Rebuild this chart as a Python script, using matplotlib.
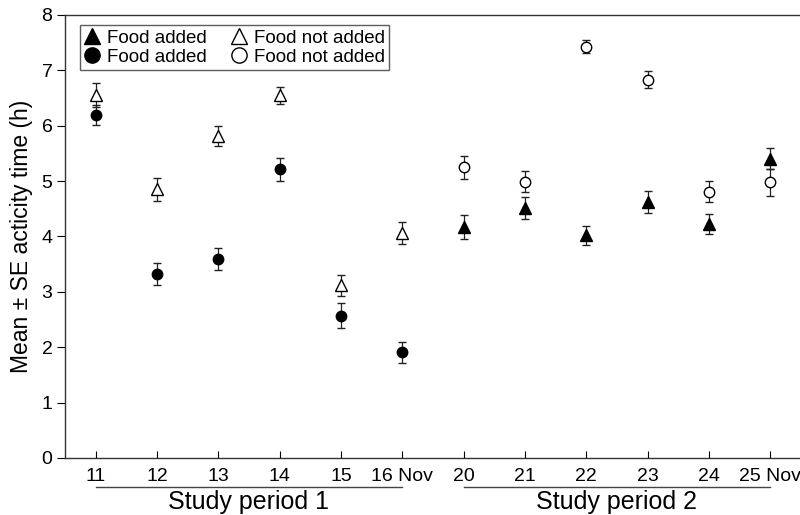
import numpy as np
import matplotlib.pyplot as plt
from matplotlib.lines import Line2D

plt.rcParams['font.family'] = ['Liberation Sans', 'DejaVu Sans']

# days of the two study periods (November)
day_labels = ['11', '12', '13', '14', '15', '16 Nov', '20', '21', '22', '23', '24', '25 Nov']

# study period 1 (days 11-16)
p1_added_mean = [6.20, 3.32, 3.59, 5.21, 2.57, 1.91]
p1_added_se = [0.18, 0.20, 0.20, 0.21, 0.22, 0.19]
p1_not_added_mean = [6.55, 4.85, 5.82, 6.55, 3.12, 4.07]
p1_not_added_se = [0.22, 0.21, 0.18, 0.15, 0.19, 0.20]

# study period 2 (days 20-25)
p2_added_mean = [4.17, 4.51, 4.02, 4.62, 4.22, 5.40]
p2_added_se = [0.22, 0.20, 0.17, 0.20, 0.18, 0.19]
p2_not_added_mean = [5.25, 4.99, 7.43, 6.83, 4.81, 4.98]
p2_not_added_se = [0.21, 0.19, 0.12, 0.15, 0.19, 0.24]

x = np.arange(len(day_labels))
x1 = x[:6]
x2 = x[6:]

fig = plt.figure(figsize=(8, 5.15), dpi=100)
ax = fig.add_axes([0.08125, 0.1107, 0.92, 0.8602])

ebkw = dict(linestyle='none', ecolor='#222222', elinewidth=0.9, capsize=3, capthick=0.9,
            markeredgewidth=1.0, markeredgecolor='black')

ax.errorbar(x1, p1_not_added_mean, yerr=p1_not_added_se, fmt='^', markersize=8,
            markerfacecolor='white', **ebkw)
ax.errorbar(x1, p1_added_mean, yerr=p1_added_se, fmt='o', markersize=7.5,
            markerfacecolor='black', **ebkw)
ax.errorbar(x2, p2_not_added_mean, yerr=p2_not_added_se, fmt='o', markersize=7.5,
            markerfacecolor='white', **ebkw)
ax.errorbar(x2, p2_added_mean, yerr=p2_added_se, fmt='^', markersize=8,
            markerfacecolor='black', **ebkw)

ax.set_xlim(-0.5, 11.5)
ax.set_ylim(0, 8)
ax.set_yticks(range(0, 9))
ax.set_xticks(x)
ax.set_xticklabels(day_labels)

ax.tick_params(axis='x', direction='in', length=5, width=0.8, labelsize=14, pad=7, colors='black')
ax.tick_params(axis='y', direction='out', length=6, width=0.8, labelsize=14, pad=3)
ax.spines['right'].set_visible(False)
for s in ['left', 'bottom', 'top']:
    ax.spines[s].set_linewidth(1.0)
    ax.spines[s].set_color('#333333')

ax.set_ylabel('Mean \u00b1 SE acticity time (h)', fontsize=16.5, labelpad=6)

# study period brackets under the day labels
for (a, b), name in [((0, 5), 'Study period 1'), ((6, 11), 'Study period 2')]:
    ax.plot([a, b], [-0.066, -0.066], color='#444444', lw=1.0,
            transform=ax.get_xaxis_transform(), clip_on=False)
    ax.text((a + b) / 2, -0.1, name, fontsize=18, ha='center', va='center',
            transform=ax.get_xaxis_transform())

handles = [
    Line2D([], [], marker='^', ls='none', color='black', markerfacecolor='black', markersize=11),
    Line2D([], [], marker='o', ls='none', color='black', markerfacecolor='black', markersize=11),
    Line2D([], [], marker='^', ls='none', color='black', markerfacecolor='white', markersize=11),
    Line2D([], [], marker='o', ls='none', color='black', markerfacecolor='white', markersize=11),
]
labels = ['Food added', 'Food added', 'Food not added', 'Food not added']
leg = ax.legend(handles, labels, ncol=2, loc='upper left', bbox_to_anchor=(0.02, 0.978),
                fontsize=13.5, frameon=True, fancybox=False, edgecolor='#333333',
                handlelength=0.8, handletextpad=0.4, columnspacing=1.3,
                labelspacing=0.1, borderpad=0.25, borderaxespad=0)
leg.get_frame().set_linewidth(1.0)

fig.savefig('out.png', dpi=100)
